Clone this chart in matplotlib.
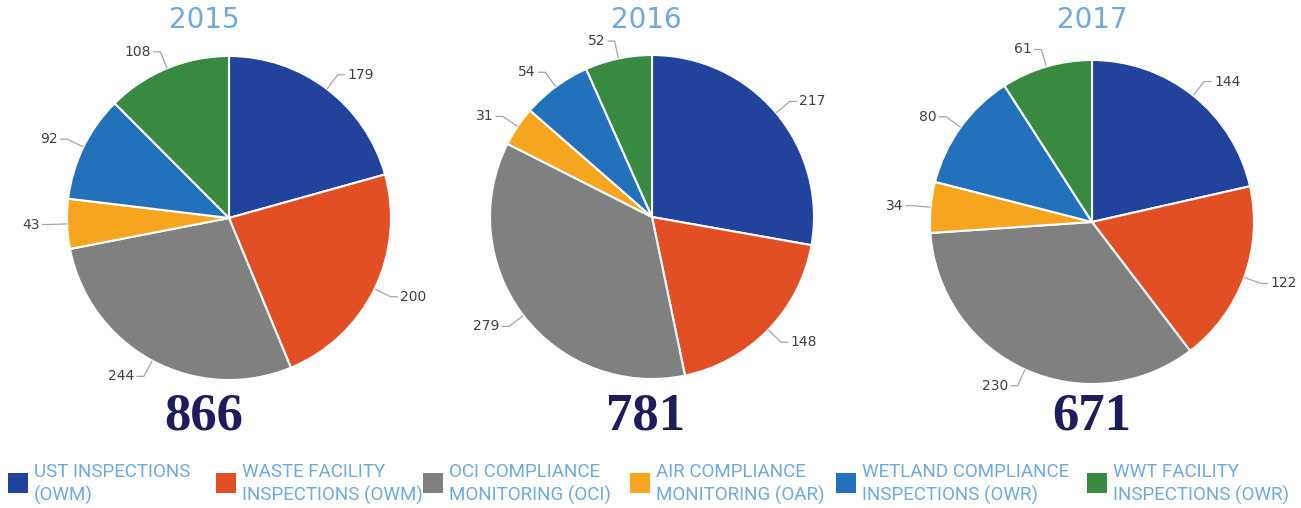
import numpy as np
import matplotlib
matplotlib.use("Agg")
import matplotlib.pyplot as plt

years = ["2015", "2016", "2017"]
categories = [
    "UST INSPECTIONS\n(OWM)",
    "WASTE FACILITY\nINSPECTIONS (OWM)",
    "OCI COMPLIANCE\nMONITORING (OCI)",
    "AIR COMPLIANCE\nMONITORING (OAR)",
    "WETLAND COMPLIANCE\nINSPECTIONS (OWR)",
    "WWT FACILITY\nINSPECTIONS (OWR)",
]
values_2015 = [179, 200, 244, 43, 92, 108]
values_2016 = [217, 148, 279, 31, 54, 52]
values_2017 = [144, 122, 230, 34, 80, 61]

colors = ["#22439b", "#e24f25", "#808080", "#f6a51f", "#2371ba", "#378a3f"]
light_blue = "#6fa9de"
navy = "#1e1c5c"

W, H = 1301, 508
fig = plt.figure(figsize=(W / 100, H / 100), dpi=100)

# pie centres in pixels, radius 162 px
centres = [(229, 218), (652, 217), (1092, 222)]
text_x = [204, 646, 1092]
half = 243  # half axes size in px -> limits +-1.5
lim = 1.5

for year, vals, (cx, cy), tx in zip(years, [values_2015, values_2016, values_2017], centres, text_x):
    ax = fig.add_axes([(cx - half) / W, (H - cy - half) / H, 2 * half / W, 2 * half / H])
    wedges, _ = ax.pie(vals, colors=colors, startangle=90, counterclock=False, radius=1.0,
                       wedgeprops=dict(edgecolor="white", linewidth=1.5))
    ax.set_xlim(-lim, lim)
    ax.set_ylim(-lim, lim)
    ax.axis("off")

    # leader: radial bit out of the wedge, then a short horizontal arm to the label
    for w, v in zip(wedges, vals):
        ang = np.deg2rad((w.theta1 + w.theta2) / 2)
        x, y = np.cos(ang), np.sin(ang)
        ex, ey = 1.11 * x, 1.11 * y
        side = 1 if x > 0 else -1
        arm = ex + side * 0.045
        ax.plot([x, ex, arm], [y, ey, ey], color="#a6a6a6", lw=0.9, solid_capstyle="butt")
        ax.text(arm + side * 0.015, ey, str(v), ha="left" if side > 0 else "right",
                va="center", fontsize=10, color="#404040")

    fig.text(tx / W, 1 - 20 / H, year, ha="center", va="center", fontsize=20,
             color=light_blue, family="DejaVu Sans")
    fig.text(tx / W, 1 - 416 / H, str(sum(vals)), ha="center", va="center", fontsize=38,
             fontweight="bold", color=navy, family="Liberation Serif")

# legend along the bottom
sq_x = [8, 216, 423, 630, 836, 1087]
for c, lab, sx in zip(colors, categories, sq_x):
    fig.patches.append(plt.Rectangle((sx / W, 1 - 493 / H), 20 / W, 20 / H,
                                     transform=fig.transFigure, facecolor=c, edgecolor="none"))
    fig.text((sx + 26) / W, 1 - 484 / H, lab, ha="left", va="center", fontsize=13.5,
             color=light_blue, family="Roboto", linespacing=1.32)

fig.savefig("out.png", dpi=100, facecolor="white")
